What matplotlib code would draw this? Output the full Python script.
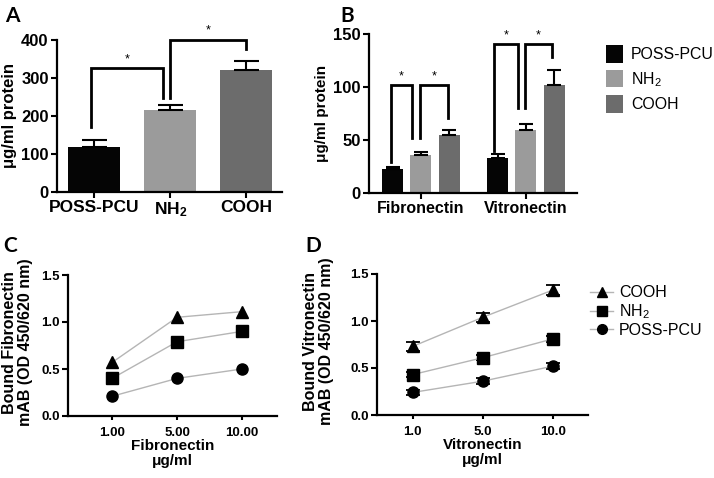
import matplotlib
matplotlib.use("Agg")
import matplotlib.pyplot as plt
from matplotlib.patches import Patch
from matplotlib.lines import Line2D
import numpy as np

plt.rcParams['font.family'] = ['Liberation Sans', 'DejaVu Sans']
plt.rcParams['mathtext.fontset'] = 'custom'
plt.rcParams['mathtext.rm'] = 'Liberation Sans'
plt.rcParams['mathtext.bf'] = 'Liberation Sans:bold'
plt.rcParams['mathtext.it'] = 'Liberation Sans:italic'
plt.rcParams['mathtext.default'] = 'rm'

# ---------------- data ----------------
groups = ['POSS-PCU', 'NH2', 'COOH']
labels_bold = ['POSS-PCU', r'$\mathbf{NH_2}$', 'COOH']
labels_reg = ['POSS-PCU', r'NH$_2$', 'COOH']
colors = ['#050505', '#9b9b9b', '#6c6c6c']

# Panel A
vals_A = [118, 215, 322]
err_A = [18, 13, 22]
brackets_A = [  # (x_left, x_right, y_left, y_top, y_right)
    (-0.04, 0.90, 171, 326, 247),
    (1.00, 2.00, 247, 400, 376),
]

# Panel B
proteins = ['Fibronectin', 'Vitronectin']
vals_B = {'POSS-PCU': [23, 33], 'NH2': [36, 59], 'COOH': [55, 102]}
err_B = {'POSS-PCU': [1.5, 4], 'NH2': [3, 6], 'COOH': [4, 14]}
brackets_B = [
    (-0.29, -0.09, 29, 102, 52),
    (-0.01, 0.26, 52, 102, 71),
    (0.70, 0.92, 40, 141, 80),
    (0.99, 1.25, 80, 141, 128),
]

# Panel C
conc_C = ['1.00', '5.00', '10.00']
C_vals = {'COOH': [0.57, 1.05, 1.11], 'NH2': [0.40, 0.79, 0.90], 'POSS-PCU': [0.21, 0.40, 0.50]}

# Panel D
conc_D = ['1.0', '5.0', '10.0']
D_vals = {'COOH': [0.73, 1.04, 1.33], 'NH2': [0.43, 0.61, 0.81], 'POSS-PCU': [0.24, 0.36, 0.52]}
D_err = {'COOH': [0.05, 0.05, 0.05], 'NH2': [0.03, 0.03, 0.03], 'POSS-PCU': [0.03, 0.03, 0.03]}

markers = {'COOH': '^', 'NH2': 's', 'POSS-PCU': 'o'}

W, H = 714, 478
fig = plt.figure(figsize=(W / 100, H / 100), dpi=100)


def ax_px(l, r, t, b):
    return fig.add_axes([l / W, 1 - b / H, (r - l) / W, (b - t) / H])


def style(ax, tick_size=10):
    for s in ['top', 'right']:
        ax.spines[s].set_visible(False)
    for s in ['left', 'bottom']:
        ax.spines[s].set_linewidth(1.6)
    ax.tick_params(width=1.5, length=4, labelsize=tick_size, pad=2)
    for t in ax.get_xticklabels() + ax.get_yticklabels():
        t.set_fontweight('bold')


def draw_brackets(ax, brs, star_dy):
    for (xl, xr, yl, yt, yr) in brs:
        ax.plot([xl, xl, xr, xr], [yl, yt, yt, yr], color='black', lw=2.0,
                clip_on=False, solid_joinstyle='miter')
        ax.text((xl + xr) / 2, yt + star_dy, '*', ha='center', va='center',
                fontsize=9, clip_on=False)


# ---------------- Panel A ----------------
axA = ax_px(57, 282, 40, 192)
xA = np.arange(len(groups))
axA.bar(xA, vals_A, width=0.68, color=colors, zorder=2)
axA.errorbar(xA, vals_A, yerr=[np.zeros(3), err_A], fmt='none', ecolor='black',
             elinewidth=1.5, capsize=9, capthick=1.5, zorder=3)
axA.set_xlim(-0.49, 2.47)
axA.set_ylim(0, 400)
axA.set_yticks([0, 100, 200, 300, 400])
axA.set_xticks(xA)
axA.set_xticklabels(labels_bold)
axA.set_ylabel('μg/ml protein', fontsize=12, fontweight='bold', labelpad=3)
style(axA, 12)
axA.tick_params(axis='x', labelsize=12.5)
draw_brackets(axA, brackets_A, 24)

# ---------------- Panel B ----------------
axB = ax_px(369, 577, 34, 193)
xB = np.arange(len(proteins))
offs = [-0.27, 0.0, 0.27]
for g, c, o in zip(groups, colors, offs):
    axB.bar(xB + o, vals_B[g], width=0.2, color=c, zorder=2)
    axB.errorbar(xB + o, vals_B[g], yerr=[np.zeros(2), err_B[g]], fmt='none',
                 ecolor='black', elinewidth=1.5, capsize=5, capthick=1.5, zorder=3)
axB.set_xlim(-0.495, 1.486)
axB.set_ylim(0, 150)
axB.set_yticks([0, 50, 100, 150])
axB.set_xticks(xB)
axB.set_xticklabels(proteins)
axB.set_ylabel('μg/ml protein', fontsize=11, fontweight='bold', labelpad=3)
style(axB, 12)
axB.tick_params(axis='x', labelsize=11.5)
draw_brackets(axB, brackets_B, 8)
handles = [Patch(facecolor=c, edgecolor='none') for c in colors]
fig.legend(handles, labels_reg, loc='upper left', bbox_to_anchor=(592 / W, 1 - 31 / H),
           frameon=False, fontsize=11.4, handlelength=1.05, handleheight=1.35,
           labelspacing=0.42, handletextpad=0.5)

# ---------------- Panel C ----------------
axC = ax_px(68, 277, 275, 416)
xC = np.arange(len(conc_C))
for g in ['COOH', 'NH2', 'POSS-PCU']:
    axC.plot(xC, C_vals[g], color='#b5b5b5', lw=1.0, marker=markers[g], ms=8,
             mfc='black', mec='black', zorder=3, clip_on=False)
axC.set_xlim(-0.68, 2.54)
axC.set_ylim(0, 1.5)
axC.set_yticks([0.0, 0.5, 1.0, 1.5])
axC.set_yticklabels(['0.0', '0.5', '1.0', '1.5'])
axC.set_xticks(xC)
axC.set_xticklabels(conc_C)
axC.set_ylabel('Bound Fibronectin\nmAB (OD 450/620 nm)', fontsize=11.5, fontweight='bold',
               linespacing=1.05)
axC.yaxis.set_label_coords(-0.167, 0.52)
axC.set_xlabel('Fibronectin\nμg/ml', fontsize=11, fontweight='bold', labelpad=0,
               linespacing=1.05)
style(axC, 9.5)
axC.tick_params(axis='x', length=3, pad=5)

# ---------------- Panel D ----------------
axD = ax_px(377, 588, 274, 415)
xD = np.arange(len(conc_D))
for g in ['COOH', 'NH2', 'POSS-PCU']:
    axD.errorbar(xD, D_vals[g], yerr=D_err[g], color='#b5b5b5', lw=1.0,
                 marker=markers[g], ms=8, mfc='black', mec='black', ecolor='black',
                 elinewidth=1.3, capsize=5, capthick=1.3, zorder=3)
axD.set_xlim(-0.51, 2.5)
axD.set_ylim(0, 1.5)
axD.set_yticks([0.0, 0.5, 1.0, 1.5])
axD.set_yticklabels(['0.0', '0.5', '1.0', '1.5'])
axD.set_xticks(xD)
axD.set_xticklabels(conc_D)
axD.set_ylabel('Bound Vitronectin\nmAB (OD 450/620 nm)', fontsize=11.5, fontweight='bold',
               linespacing=1.05)
axD.yaxis.set_label_coords(-0.205, 0.52)
axD.set_xlabel('Vitronectin\nμg/ml', fontsize=11, fontweight='bold', labelpad=0,
               linespacing=1.05)
style(axD, 9.5)
axD.tick_params(axis='x', length=3, pad=5)
leg_handles = [Line2D([0], [0], color='#b5b5b5', lw=1.0, marker=markers[g], ms=7,
                      mfc='black', mec='black') for g in ['COOH', 'NH2', 'POSS-PCU']]
fig.legend(leg_handles, ['COOH', r'NH$_2$', 'POSS-PCU'], loc='upper left',
           bbox_to_anchor=(576 / W, 1 - 271 / H), frameon=False, fontsize=11.5,
           handlelength=1.4, labelspacing=0.12, handletextpad=0.4)

# ---------------- panel letters ----------------
for letter, x, y in [('A', 5, 6), ('B', 340, 6), ('C', 3, 236), ('D', 305, 236)]:
    fig.text(x / W, 1 - y / H, letter, fontsize=15, fontweight='bold', va='top',
             ha='left', family=['Lato', 'DejaVu Sans'])

fig.savefig('out.png', dpi=100)
